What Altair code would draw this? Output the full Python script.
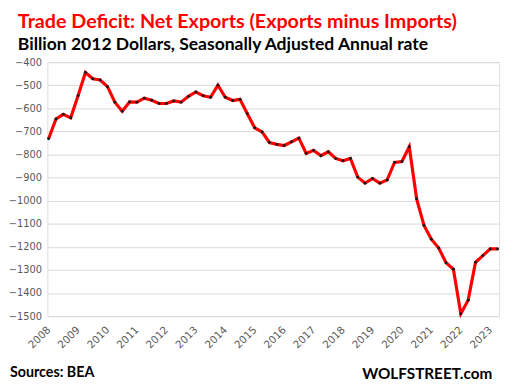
import altair as alt
import pandas as pd

years = list(range(2008, 2024))
quarters = [f"{y}Q{q}" for y in years for q in range(1, 5)][:62]
values = [
    -732, -646, -626, -641,
    -545, -445, -472, -477,
    -506, -573, -612, -572,
    -573, -556, -565, -579,
    -579, -568, -573, -548,
    -529, -545, -552, -500,
    -552, -566, -561, -623,
    -684, -702, -748, -756,
    -761, -745, -729, -795,
    -782, -805, -788, -817,
    -827, -817, -898, -924,
    -904, -924, -910, -834,
    -830, -766, -992, -1107,
    -1167, -1205, -1269, -1297,
    -1490, -1431, -1267, -1238,
    -1209, -1209,
]
y_ticks = list(range(-1500, -399, 100))
x_tick_idx = [4 * i for i in range(len(years))]

df = pd.DataFrame({"quarter": quarters, "idx": list(range(len(values))), "value": values})

x_enc = alt.X(
    "idx:Q",
    scale=alt.Scale(domain=[-0.17, 61.2], nice=False, zero=False),
    axis=alt.Axis(
        values=x_tick_idx,
        labelExpr="'' + (2008 + datum.value / 4)",
        labelAngle=-45,
        labelAlign="right",
        labelBaseline="middle",
        labelPadding=12,
        labelFont="DejaVu Sans",
        labelFontSize=10.5,
        labelColor="#595959",
        grid=False,
        ticks=False,
        domain=False,
        title=None,
    ),
)
y_enc = alt.Y(
    "value:Q",
    scale=alt.Scale(domain=[-1500, -400], nice=False, zero=False),
    axis=alt.Axis(
        values=y_ticks,
        format="d",
        labelFont="DejaVu Sans",
        labelFontSize=10,
        labelColor="#595959",
        labelPadding=6,
        grid=True,
        gridColor="#d9d9d9",
        gridWidth=1,
        ticks=False,
        domain=False,
        title=None,
    ),
)

base = alt.Chart(df)
line = base.mark_line(color="#ff0000", strokeWidth=3.2).encode(x=x_enc, y=y_enc)
pts = base.mark_point(filled=True, color="#1a1a1a", size=9, opacity=1).encode(x=x_enc, y=y_enc)


def label(text, x, y, size, color, align="left"):
    return alt.Chart(pd.DataFrame({"t": [text]})).mark_text(
        font="Lato", fontWeight="bold", fontSize=size, color=color,
        align=align, baseline="alphabetic",
    ).encode(text="t:N", x=alt.value(x), y=alt.value(y))


title = label("Trade Deficit: Net Exports (Exports minus Imports)", -30, -35, 20, "#ff0000")
subtitle = label("Billion 2012 Dollars, Seasonally Adjusted Annual rate", -30, -12, 17.8, "#000000")
source = label("Sources: BEA", -38, 320, 14.5, "#000000")
brand = label("WOLFSTREET.com", 452, 322, 15.5, "#000000", align="right")

chart = (
    alt.layer(line, pts, title, subtitle, source, brand)
    .properties(
        width=459,
        height=258,
        autosize=alt.AutoSizeParams(type="none"),
        padding={"left": 40, "top": 52, "right": 4, "bottom": 70},
    )
    .configure_view(stroke=None)
    .configure(background="white")
)

chart.save("out.html", embed_options={"renderer": "svg", "actions": False})
